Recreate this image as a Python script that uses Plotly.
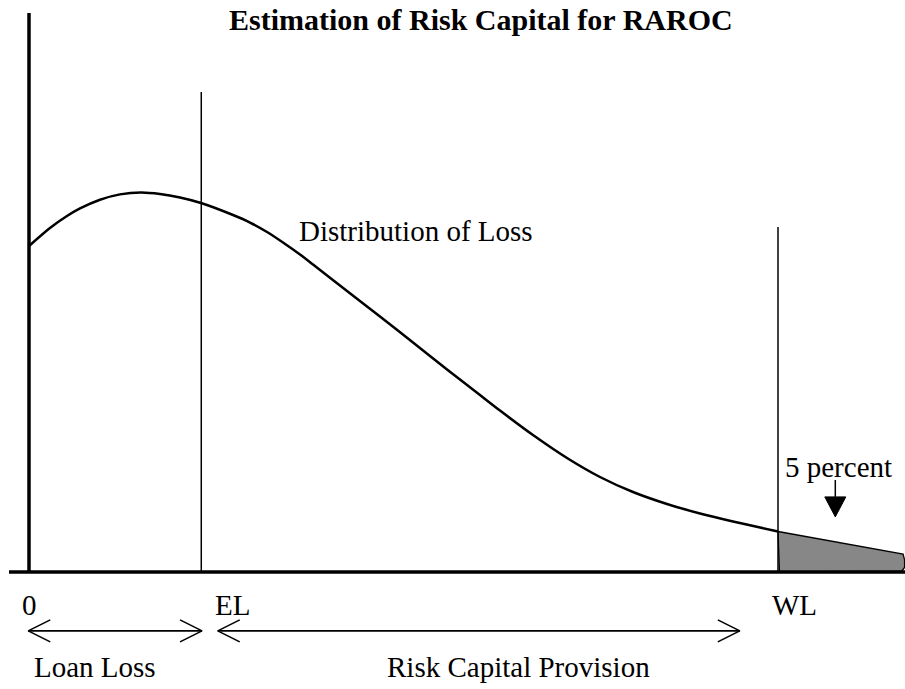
import plotly.graph_objects as go

# ---------------- data ----------------
loss_x = [0, 2.80, 5.07, 6.81, 9.48, 12.15, 14.95, 17.49, 20.16, 22.96, 27.24, 29.51, 31.78,
          33.91, 36.18, 37.92, 42.46, 46.86, 51.27, 55.81, 60.21, 62.88, 67.29, 71.83, 76.23,
          80.64, 85.18, 89.59, 93.99, 97.60, 100]
density = [85.79, 90.53, 93.68, 95.68, 97.97, 99.37, 99.87, 99.47, 98.55, 97.11, 93.95, 91.97,
           89.47, 86.71, 83.55, 80.92, 73.95, 67.24, 60.39, 53.29, 46.58, 42.50, 36.05, 30.0,
           25.0, 21.05, 17.89, 15.39, 13.29, 11.71, 10.66]

tail_x = [100, 108.4, 116.7, 116.9, 116.9, 116.5, 100.2, 100]
tail_y = [10.66, 7.6, 4.7, 3.2, 1.2, 0.2, 0, 10.66]

EL = 23.0
WL = 100.0
line_tops = {"axis": 147.1, "EL": 126.3, "WL": 90.8}
x_extent = [-2.67, 117.0]

arrow_spans = [(-0.1, 23.1), (25.2, 94.9)]
arrow_level = -15.5
five_pct_arrow_x = 107.65
five_pct_arrow_y = (24.2, 14.5)

title_text = "Estimation of Risk Capital for RAROC"
axis_labels = ["0", "EL", "WL"]
axis_label_x = [0, 24.6, 98.9]
bottom_labels = ["Loan Loss", "Risk Capital Provision"]
bottom_label_x = [0.4, 47.5]

# ---------------- scale (pixels per unit) ----------------
XS, YS = 7.49, 3.8
X0_PX, Y0_PX = 29, 572
W, H = 905, 689
xr = [-X0_PX / XS, (W - X0_PX) / XS]
yr = [(Y0_PX - H) / YS, Y0_PX / YS]

FONT = "Liberation Serif, Times New Roman, serif"
FS = 29

fig = go.Figure()

# shaded 5 percent tail
fig.add_trace(go.Scatter(x=tail_x, y=tail_y, mode="lines", fill="toself",
                         fillcolor="#878787", line=dict(color="black", width=1.3),
                         hoverinfo="skip"))
# loss distribution curve
fig.add_trace(go.Scatter(x=loss_x, y=density, mode="lines",
                         line=dict(color="black", width=2.5, shape="spline", smoothing=0.8),
                         hoverinfo="skip"))
# vertical axis (0)
fig.add_trace(go.Scatter(x=[0, 0], y=[0, line_tops["axis"]], mode="lines",
                         line=dict(color="black", width=3.5), hoverinfo="skip"))
# EL and WL lines
fig.add_trace(go.Scatter(x=[EL, EL], y=[0, line_tops["EL"]], mode="lines",
                         line=dict(color="black", width=1.5), hoverinfo="skip"))
fig.add_trace(go.Scatter(x=[WL, WL], y=[0, line_tops["WL"]], mode="lines",
                         line=dict(color="black", width=1.5), hoverinfo="skip"))
# baseline
fig.add_trace(go.Scatter(x=x_extent, y=[0, 0], mode="lines",
                         line=dict(color="black", width=3.5), hoverinfo="skip"))

# double-headed open arrows
HL = 22 / XS
HH = 11 / YS
for a, b in arrow_spans:
    y = arrow_level
    xs = [a + HL, a, a + HL, None, a, b, None, b - HL, b, b - HL]
    ys = [y + HH, y, y - HH, None, y, y, None, y + HH, y, y - HH]
    fig.add_trace(go.Scatter(x=xs, y=ys, mode="lines",
                             line=dict(color="black", width=1.6), hoverinfo="skip"))

# down arrow to the tail
ax_ = five_pct_arrow_x
ytop, ytip = five_pct_arrow_y
head_len = 20 / YS
head_hw = 10.5 / XS
fig.add_trace(go.Scatter(x=[ax_, ax_], y=[ytop, ytip + head_len], mode="lines",
                         line=dict(color="black", width=1.5), hoverinfo="skip"))
fig.add_trace(go.Scatter(x=[ax_ - head_hw, ax_ + head_hw, ax_, ax_ - head_hw],
                         y=[ytip + head_len, ytip + head_len, ytip, ytip + head_len],
                         mode="lines", fill="toself", fillcolor="black",
                         line=dict(color="black", width=1), hoverinfo="skip"))

annotations = []
def txt(x, y, s, anchor="left", bold=False, size=FS):
    annotations.append(dict(x=x, y=y, xref="x", yref="y", text=(f"<b>{s}</b>" if bold else s),
                            showarrow=False, xanchor=anchor, yanchor="middle",
                            font=dict(family=FONT, size=size, color="black")))

txt(60.3, 145.5, title_text, anchor="center", bold=True, size=30)
txt(35.8, 89.7, "Distribution of Loss")
txt(100.7, 27.6, "5 percent")
txt(axis_label_x[0], -8.7, axis_labels[0], anchor="center")
txt(axis_label_x[1], -8.7, axis_labels[1])
txt(axis_label_x[2], -8.7, axis_labels[2])
for s, x in zip(bottom_labels, bottom_label_x):
    txt(x, -25.0, s)

fig.update_layout(
    width=W, height=H, autosize=False,
    margin=dict(l=0, r=0, t=0, b=0),
    paper_bgcolor="white", plot_bgcolor="white",
    showlegend=False,
    xaxis=dict(range=xr, visible=False, fixedrange=True),
    yaxis=dict(range=yr, visible=False, fixedrange=True),
    annotations=annotations,
)

fig.write_html("out.html", config={"displayModeBar": False},
               post_script="document.body.style.margin='0';document.body.style.overflow='hidden';")
